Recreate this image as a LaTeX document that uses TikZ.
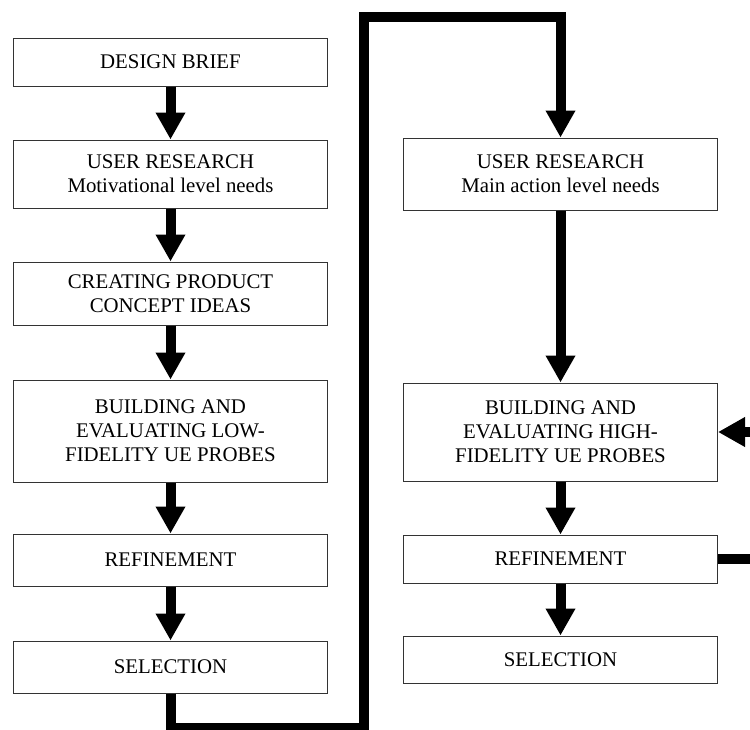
\documentclass[tikz,border=0pt]{standalone}
\usepackage{fontspec}
\setmainfont{Liberation Serif}
\usetikzlibrary{arrows.meta}

\begin{document}
\begin{tikzpicture}[x=0.6pt, y=-0.6pt, font=\fontsize{12.5}{14.4}\selectfont, line join=miter]
		\useasboundingbox (0,0) rectangle (750,729);
		\begin{scope}[every node/.style={draw=black!80,line width=0.6pt,minimum width=188.4pt,align=center,inner sep=2pt}]
			\node (brief) at (170.5,62) [minimum height=28.8pt] {DESIGN BRIEF};
			\node (research1) at (170.5,174) [minimum height=40.8pt] {USER RESEARCH\\Motivational level needs};
			\node (concept) at (170.5,293.5) [minimum height=37.8pt] {CREATING PRODUCT\\CONCEPT IDEAS};
			\node (build1) at (170.5,431) [minimum height=61.2pt] {BUILDING AND\\EVALUATING LOW-\\FIDELITY UE PROBES};
			\node (refine1) at (170.5,560) [minimum height=31.2pt] {REFINEMENT};
			\node (select1) at (170.5,667) [minimum height=31.2pt] {SELECTION};
		\end{scope}
		\begin{scope}[every node/.style={draw=black!80,line width=0.6pt,minimum width=188.4pt,align=center,inner sep=2pt}]
			\node (research2) at (560.5,174) [minimum height=43.2pt] {USER RESEARCH\\Main action level needs};
			\node (build2) at (560.5,432) [minimum height=58.8pt] {BUILDING AND\\EVALUATING HIGH-\\FIDELITY UE PROBES};
			\node (refine2) at (560.5,559) [minimum height=28.8pt] {REFINEMENT};
			\node (select2) at (560.5,659.5) [minimum height=28.2pt] {SELECTION};
		\end{scope}
		\coordinate (low) at (364,728);
		\coordinate (high) at (364,16.5);

		\begin{scope}[every edge/.style={draw,line width=6pt}, >={Triangle[width=16.8pt,length=16.2pt]}]
			\path [->] (brief) edge (research1);
			\path [->] (research1) edge (concept);
			\path [->] (concept) edge (build1);
			\path [->] (build1) edge (refine1);
			\path [->] (refine1) edge (select1);
			\path [->] (research2) edge (build2);
			\path [->] (build2) edge (refine2);
			\path [->] (refine2) edge (select2);
		\end{scope}
		\draw [line width=6pt, -{Triangle[width=16.8pt,length=16.2pt]}] (select1.south) |- (low) -- (high) -| (research2.north);
		\draw [line width=6pt, -{Triangle[width=16.8pt,length=16.2pt]}] (refine2.east) -- ++(45,0) |- (build2.east);
	\end{tikzpicture}
\end{document}
